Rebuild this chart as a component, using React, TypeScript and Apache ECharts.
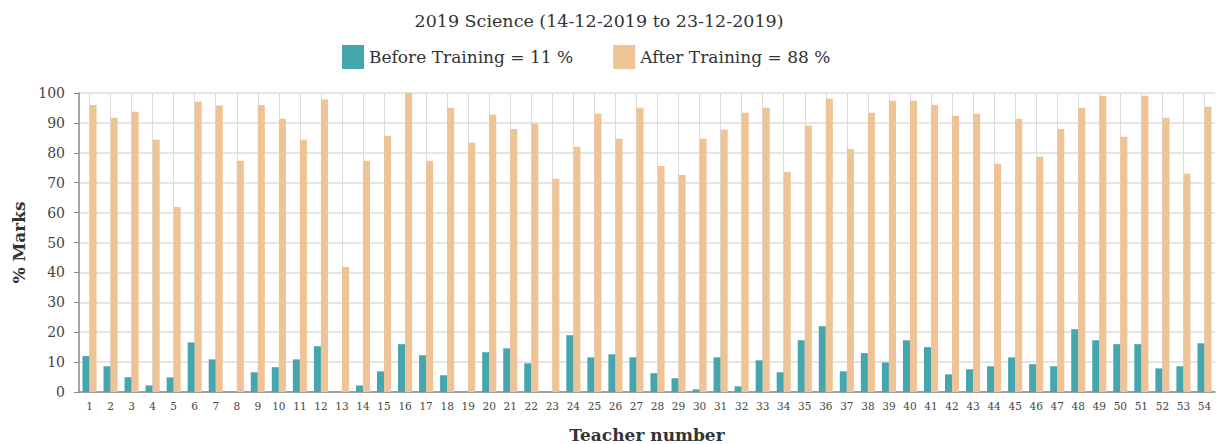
import React, { useEffect, useRef } from "react";
import * as echarts from "echarts";

const teachers: string[] = Array.from({ length: 54 }, (_, i) => String(i + 1));

const beforeTraining: number[] = [
  12, 8.6, 4.9, 2.2, 4.9, 16.6, 10.9, 0, 6.6, 8.3,
  10.9, 15.3, 0, 2.2, 6.9, 16, 12.3, 5.6, 0, 13.3,
  14.6, 9.6, 0, 19, 11.6, 12.6, 11.6, 6.3, 4.6, 0.9,
  11.6, 1.9, 10.6, 6.6, 17.3, 22, 6.9, 13, 9.9, 17.3,
  15, 5.9, 7.6, 8.6, 11.6, 9.3, 8.6, 21, 17.3, 16,
  16, 7.9, 8.6, 16.3,
];

const afterTraining: number[] = [
  96, 91.7, 93.7, 84.4, 61.9, 97.1, 95.8, 77.3, 96, 91.4,
  84.4, 97.8, 41.8, 77.3, 85.7, 100, 77.3, 95.1, 83.4, 92.7,
  88, 89.7, 71.3, 82, 93.1, 84.7, 95.1, 75.6, 72.6, 84.7,
  87.7, 93.4, 95.1, 73.6, 89.1, 98.1, 81.3, 93.4, 97.4, 97.4,
  96.1, 92.4, 93.1, 76.3, 91.4, 78.7, 88, 95.1, 99.1, 85.4,
  99.1, 91.7, 73, 95.4,
];

const titleText = "2019 Science (14-12-2019 to 23-12-2019)";
const seriesNames = ["Before Training = 11 %", "After Training = 88 %"];
const yTicks = [0, 10, 20, 30, 40, 50, 60, 70, 80, 90, 100];

const FONT = "'DejaVu Serif', serif";

export default function App() {
  const ref = useRef<HTMLDivElement>(null);
  useEffect(() => {
    if (!ref.current) return;
    const chart = echarts.init(ref.current, undefined, { renderer: "svg" });
    chart.setOption({
      animation: false,
      textStyle: { fontFamily: FONT, color: "#333" },
      title: {
        text: titleText,
        left: 594,
        textAlign: "center",
        top: 7,
        textStyle: { fontFamily: FONT, fontSize: 17.5, fontWeight: "normal", color: "#333" },
      },
      legend: {
        left: 337,
        top: 40,
        icon: "rect",
        itemWidth: 22,
        itemHeight: 24,
        itemGap: 40,
        textStyle: { fontFamily: FONT, fontSize: 17, color: "#333" },
        data: seriesNames,
      },
      grid: { left: 79, right: 1, top: 93, bottom: 52, containLabel: false, outerBoundsMode: "none" },
      xAxis: {
        type: "category",
        data: teachers,
        name: "Teacher number",
        nameLocation: "middle",
        nameGap: 34,
        nameTextStyle: { fontFamily: FONT, fontSize: 17, fontWeight: "bold", color: "#333" },
        axisLine: { lineStyle: { color: "#888", width: 1.5 } },
        axisTick: { alignWithLabel: true, length: 5, lineStyle: { color: "#666" } },
        axisLabel: { interval: 0, fontSize: 10.5, color: "#444", margin: 8, fontFamily: FONT },
        splitLine: { show: true, alignWithLabel: true, lineStyle: { color: "#dcdcdc", width: 1 } },
      },
      yAxis: {
        type: "value",
        min: 0,
        max: 100,
        interval: 10,
        name: "% Marks",
        nameLocation: "middle",
        nameGap: 50,
        nameTextStyle: { fontFamily: FONT, fontSize: 17, fontWeight: "bold", color: "#333" },
        axisLine: { show: true, lineStyle: { color: "#888", width: 1.5 } },
        axisTick: { show: true, length: 5, lineStyle: { color: "#888" } },
        axisLabel: {
          fontSize: 14,
          color: "#444",
          margin: 14,
          fontFamily: FONT,
          formatter: (v: number) => (yTicks.includes(v) ? String(v) : ""),
        },
        splitLine: { show: true, lineStyle: { color: "#dcdcdc", width: 1.5 } },
      },
      series: [
        {
          name: seriesNames[0],
          type: "bar",
          data: beforeTraining,
          itemStyle: { color: "#45a6ae" },
          barGap: "0%",
          barCategoryGap: "33%",
        },
        {
          name: seriesNames[1],
          type: "bar",
          data: afterTraining,
          itemStyle: { color: "#eec396" },
          barGap: "0%",
          barCategoryGap: "33%",
        },
      ],
    });
    return () => chart.dispose();
  }, []);
  return <div ref={ref} style={{ width: 1216, height: 444, position: "absolute", left: 0, top: 0 }} />;
}
